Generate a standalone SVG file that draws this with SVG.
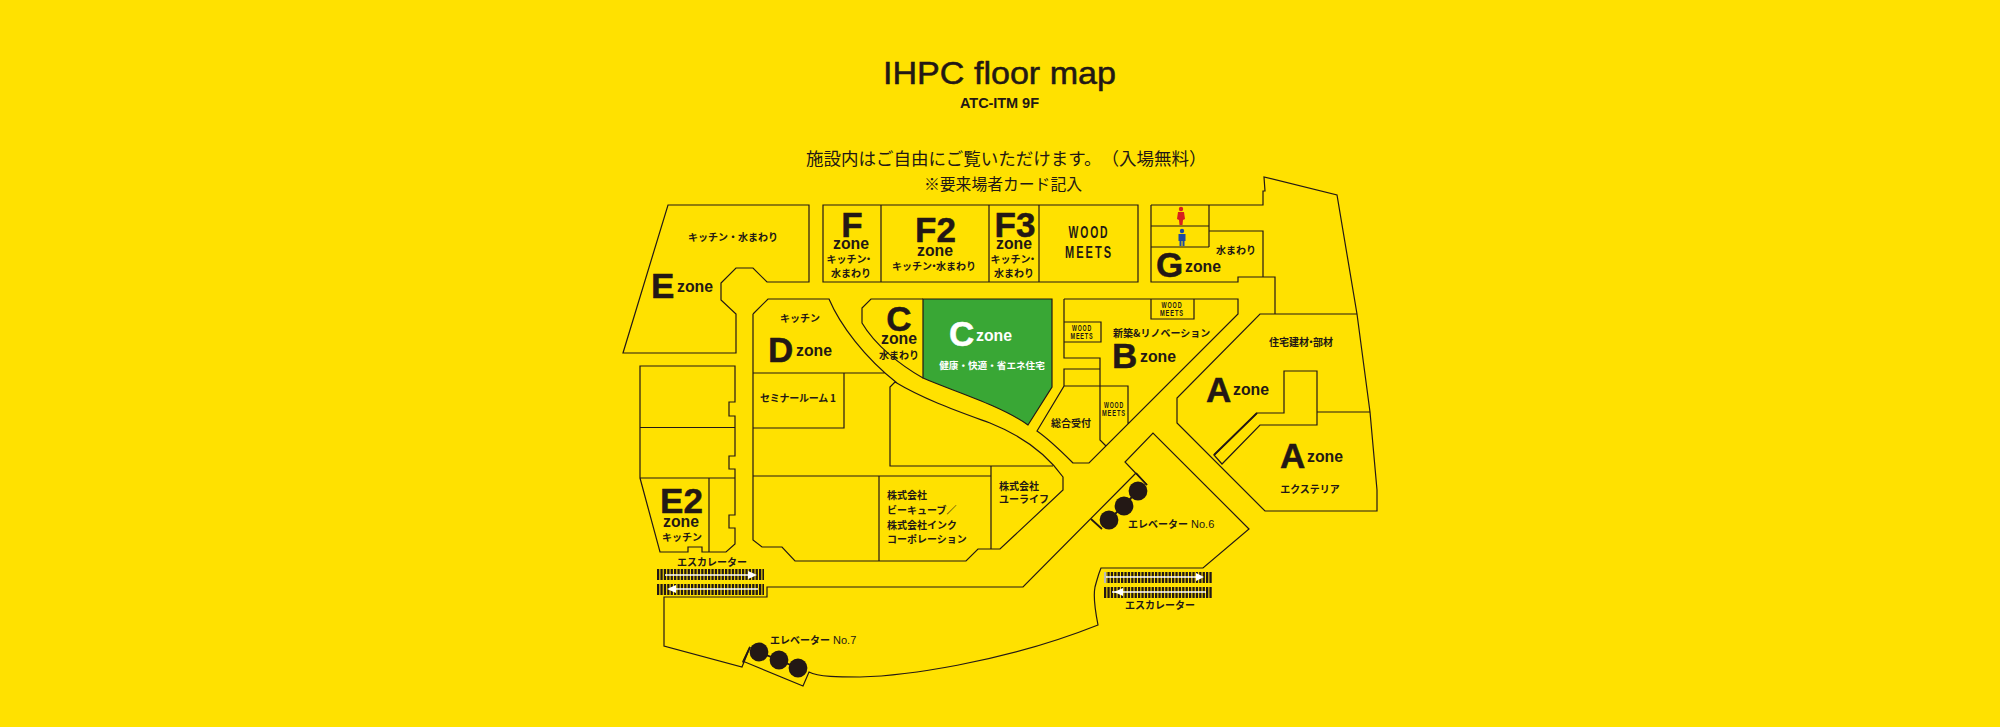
<svg xmlns="http://www.w3.org/2000/svg" width="2000" height="727" viewBox="0 0 2000 727">
<style>
.w{fill:none;stroke:#231815;stroke-width:1.2;stroke-linejoin:miter}
.t{stroke-width:1.8}
text{fill:#231815;text-spacing-trim:space-all}
.j{font-family:"Noto Sans CJK JP",sans-serif;font-size:10px;font-weight:700}
.c{text-anchor:middle}
.L{font-family:"Liberation Sans",Arial,sans-serif;font-weight:700;font-size:35px;stroke:#231815;stroke-width:.5}
.z{font-family:"Liberation Sans",Arial,sans-serif;font-weight:700;font-size:17px}
.m{font-family:"Liberation Sans",Arial,sans-serif;font-weight:700;text-anchor:middle}
.big{font-size:16.5px;letter-spacing:3px}.sm{font-size:9.5px;letter-spacing:1.5px}
.wt{fill:#fff}
.L.wt{stroke:#fff}
.st{fill:none;stroke:#231815;stroke-width:11;stroke-dasharray:2.3 1.1}
.wl{fill:none;stroke:#fff;stroke-width:1.4}
.ah{fill:#fff}
.e{fill:#231815}
.n{font-family:"Liberation Sans",Arial,sans-serif;font-size:11px;font-weight:400}
</style>
<rect width="2000" height="727" fill="#ffe100"/>
<g id="heading">
<text x="883" y="84" font-family="'Liberation Sans',Arial,sans-serif" font-size="30.500" stroke="#231815" stroke-width=".5" textLength="233" lengthAdjust="spacingAndGlyphs">IHPC floor map</text>
<text x="960" y="108" font-family="'Liberation Sans',Arial,sans-serif" font-size="14.5" font-weight="700" textLength="79">ATC-ITM 9F</text>
<text x="806" y="165" font-family="'Noto Sans CJK JP',sans-serif" font-size="17.500">施設内はご自由にご覧いただけます。（入場無料）</text>
<text x="1003" y="190" font-family="'Noto Sans CJK JP',sans-serif" font-size="15.800" text-anchor="middle">※要来場者カード記入</text>
</g>
<g id="plan-lines">
<path id="zone-e-outline" class="w" d="M668,205H809V282H767L753,268H736L721,283V300L736,314V353H623Z"/>
<path id="zone-f-outline" class="w" d="M823,205H1138V282H823ZM881,205V282M989,205V282M1039,205V282"/>
<path id="zone-g-outline" class="w" d="M1151,205H1263V191H1265L1264,177L1337,195L1357,314L1370,412L1377,490V511H1265L1177,423V398L1260,314H1357M1275,314V277H1238V282H1151V205M1151,226H1209M1151,247H1209M1209,205V247M1209,231H1263V277"/>
<path id="zone-a-notch" class="w" d="M1317,412H1370M1214,455L1257,413H1284V371H1317V425H1260L1222,464L1214,455Z"/>
<path id="zone-b-outline" class="w" d="M1064,299H1238V314L1089,463H1073C1062,452 1050,440 1037,431L1064,386V369H1100M1064,386H1128V424M1064,299V358H1100V440L1106,446M1064,322H1101V342H1064M1151,299V319H1194V299"/>
<path id="zone-d-outline" class="w" d="M753,314L768,299H829C840,325 865,358 897,383M753,314V540L762,547H782L795,561H966L978,549H1000L1063,490V477C1045,452 1020,435 990,423C960,412 925,400 895,382L890,387V466H1053M753,373H885M844,373V428H753M753,476H991M879,476V561M991,466V549"/>
<path id="zone-c-outline" class="w" d="M923,299H871L862,308V323C875,345 900,365 923,378"/>
<path id="zone-c-green" d="M923,299H1052V387L1028,425C1000,405 950,390 923,378Z" fill="#39a735" stroke="#231815" stroke-width="1.2"/>
<path id="west-rooms" class="w" d="M640,366H735V402H729V416H735V456H729V469H735V478H640ZM640,427.500H735M640,478L660,552H688V547H702V552H726L735,544V528H729V515H735V478M709,478V552"/>
<path id="south-wing" class="w" d="M1136,473L1023,587H767V597H664V646L742,667L750,647L743,662L745,662L803,686L809,672C818,677 840,677 860,677C900,676 1000,664 1098,625C1095,610 1093,597 1095,587C1097,580 1098,575 1101,568H1203L1249,529L1153,433L1125,462L1147,485"/>
<path class="w t" d="M1136,473L1147,485M1091,519L1102,529M750,647L743,662M1214,455L1257,413"/>
</g>
<g id="elevators">
<path class="w t" d="M1138,491L1109,520M759,652L798,668"/>
<circle class="e" cx="1138" cy="491" r="9.4"/><circle class="e" cx="1124" cy="506" r="9.4"/><circle class="e" cx="1109" cy="520" r="9.4"/>
<circle class="e" cx="759" cy="652" r="9.4"/><circle class="e" cx="779" cy="660" r="9.4"/><circle class="e" cx="798" cy="668" r="9.4"/>
</g>
<g id="escalators">
<path class="st" d="M657,574.500H764M657,589.500H764M1104,577.500H1212M1104,592.500H1212"/>
<path class="wl" d="M665,575H752M671,589H758M1106,577H1200M1112,592H1206M1105,572V583"/>
<path class="ah" d="M757,575L748,571V579ZM667,589L676,585V593ZM1204,577L1196,573V581ZM1114,592L1123,588V596Z"/>
</g>
<g id="toilets">
<g id="woman" fill="#d7201f"><circle cx="1181" cy="209" r="2.200"/><path d="M1178,212H1184L1185,219L1183,220L1182.500,225H1179.500L1179,220L1177,219Z"/></g>
<g id="man" fill="#1f4aa0"><circle cx="1182" cy="231" r="2.200"/><path d="M1178.500,234H1185.500V241H1184.500V246H1182.500V241H1181.500V246H1179.500V241H1178.500Z"/></g>
</g>
<g id="zone-e">
<text class="L" x="651" y="298">E</text><text class="z" x="677" y="292" textLength="36" lengthAdjust="spacingAndGlyphs">zone</text>
<text class="j c" x="733" y="241">キッチン・水まわり</text>
</g>
<g id="zone-f">
<text class="L c" x="852" y="237">F</text><text class="z c" x="851" y="249" textLength="36" lengthAdjust="spacingAndGlyphs">zone</text>
<text class="j c" x="850" y="263">キッチン<tspan dx="-3">・</tspan></text><text class="j c" x="851" y="277">水まわり</text>
</g>
<g id="zone-f2">
<text class="L c" x="935.500" y="242">F2</text><text class="z c" x="935" y="256" textLength="36" lengthAdjust="spacingAndGlyphs">zone</text>
<text class="j c" x="934" y="270">キッチン<tspan dx="-3">・</tspan><tspan dx="-3">水まわり</tspan></text>
</g>
<g id="zone-f3">
<text class="L c" x="1015" y="237">F3</text><text class="z c" x="1014" y="249" textLength="36" lengthAdjust="spacingAndGlyphs">zone</text>
<text class="j c" x="1014" y="263">キッチン<tspan dx="-3">・</tspan></text><text class="j c" x="1014" y="277">水まわり</text>
</g>
<g id="wood-meets-large">
<text class="m big" x="1089" y="238" textLength="41" lengthAdjust="spacingAndGlyphs">WOOD</text>
<text class="m big" x="1089" y="258" textLength="48" lengthAdjust="spacingAndGlyphs">MEETS</text>
</g>
<g id="zone-g">
<text class="L" x="1156" y="277">G</text><text class="z" x="1185" y="272" textLength="36" lengthAdjust="spacingAndGlyphs">zone</text>
<text class="j c" x="1236" y="254">水まわり</text>
</g>
<g id="zone-b">
<text class="j" x="1113" y="337">新築&amp;リノベーション</text>
<text class="L" x="1112" y="368">B</text><text class="z" x="1140" y="362" textLength="36" lengthAdjust="spacingAndGlyphs">zone</text>
<text class="m sm" x="1172" y="308" textLength="21" lengthAdjust="spacingAndGlyphs">WOOD</text><text class="m sm" x="1172" y="316" textLength="24" lengthAdjust="spacingAndGlyphs">MEETS</text>
<text class="m sm" x="1082" y="331" textLength="20" lengthAdjust="spacingAndGlyphs">WOOD</text><text class="m sm" x="1082" y="339" textLength="23" lengthAdjust="spacingAndGlyphs">MEETS</text>
<text class="m sm" x="1114" y="408" textLength="20" lengthAdjust="spacingAndGlyphs">WOOD</text><text class="m sm" x="1114" y="416" textLength="24" lengthAdjust="spacingAndGlyphs">MEETS</text>
</g>
<g id="reception"><text class="j c" x="1071" y="427">総合受付</text></g>
<g id="zone-c">
<text class="L c" x="899" y="331">C</text><text class="z c" x="899" y="344" textLength="36" lengthAdjust="spacingAndGlyphs">zone</text>
<text class="j c" x="899" y="359">水まわり</text>
<text class="L wt" x="949" y="346">C</text><text class="z wt" x="976" y="341" textLength="36" lengthAdjust="spacingAndGlyphs">zone</text>
<text class="j c wt" x="992" y="369" style="font-size:9.600px">健康・快適・省エネ住宅</text>
</g>
<g id="zone-d">
<text class="j c" x="800" y="322">キッチン</text>
<text class="L" x="768" y="362">D</text><text class="z" x="796" y="356" textLength="36" lengthAdjust="spacingAndGlyphs">zone</text>
<text class="j" x="760" y="402" textLength="76">セミナールーム 1</text>
</g>
<g id="zone-e2">
<text class="L c" x="681.500" y="513">E2</text><text class="z c" x="681" y="527" textLength="36" lengthAdjust="spacingAndGlyphs">zone</text>
<text class="j c" x="682" y="541">キッチン</text>
</g>
<g id="tenants">
<text class="j" x="887" y="499">株式会社</text><text class="j" x="887" y="514">ビーキューブ／</text><text class="j" x="887" y="529">株式会社インク</text><text class="j" x="887" y="543">コーポレーション</text>
<text class="j" x="999" y="490">株式会社</text><text class="j" x="999" y="503">ユーライフ</text>
</g>
<g id="zone-a">
<text class="j c" x="1301" y="346">住宅建材<tspan dx="-3">・</tspan><tspan dx="-3">部材</tspan></text>
<text class="L" x="1206" y="402">A</text><text class="z" x="1233" y="395" textLength="36" lengthAdjust="spacingAndGlyphs">zone</text>
<text class="L" x="1280" y="468">A</text><text class="z" x="1307" y="462" textLength="36" lengthAdjust="spacingAndGlyphs">zone</text>
<text class="j c" x="1310" y="493">エクステリア</text>
</g>
<g id="transport-labels">
<text class="j c" x="712" y="566">エスカレーター</text>
<text class="j c" x="1160" y="609">エスカレーター</text>
<text class="j" x="1128" y="528">エレベーター<tspan class="n"> No.6</tspan></text>
<text class="j" x="770" y="644">エレベーター<tspan class="n"> No.7</tspan></text>
</g>
</svg>
